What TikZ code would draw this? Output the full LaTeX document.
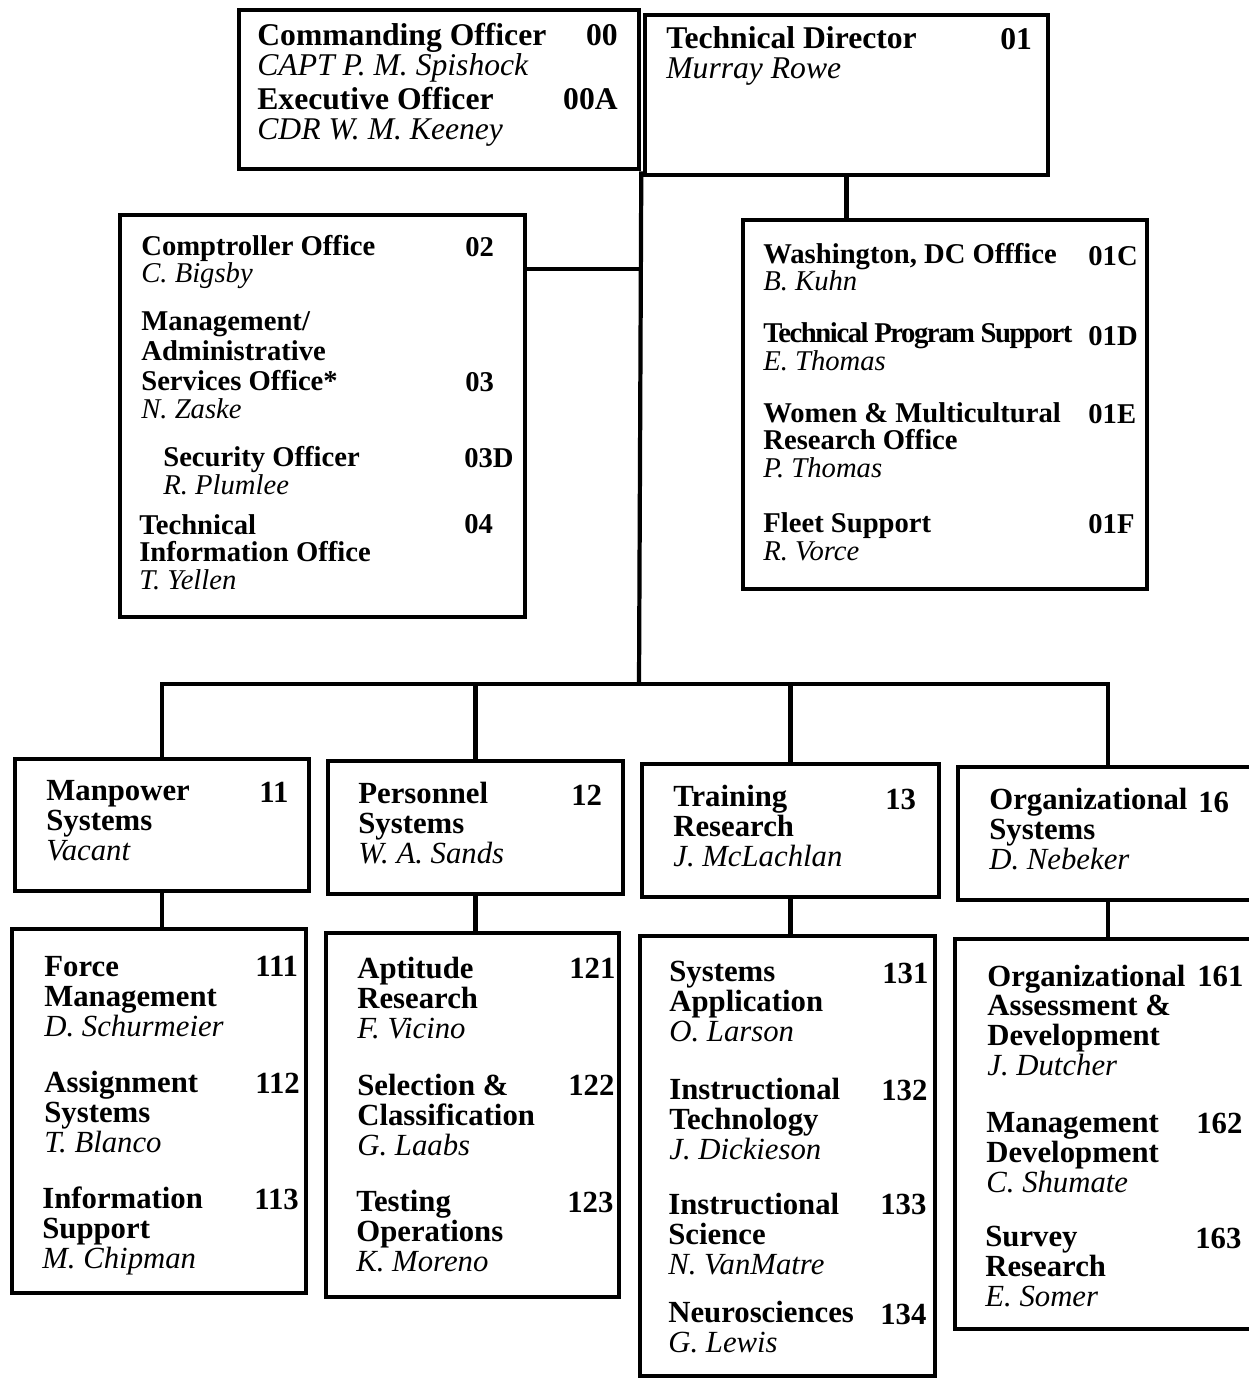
\documentclass[tikz,border=0pt]{standalone}
\usepackage{fontspec}
\setmainfont{Liberation Serif}
\usepackage{tikz}
\usetikzlibrary{fit}

\newcommand{\topsize}{\fontsize{18}{17.1}\selectfont\lineskiplimit=-20pt}
\newcommand{\midsize}{\fontsize{16.3}{15.4}\selectfont\lineskiplimit=-20pt}
\newcommand{\lowsize}{\fontsize{17.5}{16.8}\selectfont\lineskiplimit=-20pt}
\newcommand{\nm}[1]{{\mdseries\itshape #1}}

\tikzset{
	box/.style={draw, line width=2.6pt, inner sep=0pt},
	link/.style={line width=2.4pt},
	% multi-line nodes sit on the baseline of their last line
	unit/.style={anchor=base west, inner sep=0pt, align=left, font=#1\bfseries},
	orgno/.style={anchor=base west, inner sep=0pt, font=#1\bfseries},
}

\begin{document}
\begin{tikzpicture}[x=0.02cm, y=-0.02cm]
	\useasboundingbox (0,0) rectangle (1248,1378);
	% boxes
	\node[box, fit={(239,10) (639,169)}] (co) {};
	\node[box, fit={(645,15) (1048,175)}] (td) {};
	\node[box, fit={(120,215) (525,617)}] (cmp) {};
	\node[box, fit={(743,220) (1147,589)}] (wdc) {};
	\node[box, fit={(15,759) (309,891)}] (mps) {};
	\node[box, fit={(328,761) (623,894)}] (pers) {};
	\node[box, fit={(642,764) (939,897)}] (trn) {};
	\node[box, fit={(958,767) (1258,900)}] (org) {};
	\node[box, fit={(12,929) (306,1293)}] (mps3) {};
	\node[box, fit={(326,933) (619,1297)}] (pers3) {};
	\node[box, fit={(640,936) (935,1376)}] (trn3) {};
	\node[box, fit={(955,939) (1258,1329)}] (org3) {};

	% connectors
	\coordinate (bus) at (639,684);
	\coordinate (j1) at (639,269);
	\draw[link] (co.south east) -- (bus);
	\draw[link] (cmp.east |- j1) -- (j1);
	\draw[link] (td.south) -- (td.south |- wdc.north);
	\draw[link] (mps.north) -- (mps.north |- bus) -- (org.north |- bus) -- (org.north);
	\draw[link] (pers.north |- bus) -- (pers.north);
	\draw[link] (trn.north |- bus) -- (trn.north);
	\foreach \b/\c in {mps/mps3, pers/pers3, trn/trn3, org/org3}
		\draw[link] (\b.south) -- (\b.south |- \c.north);

	% top row
	\node[unit=\topsize] (t00) at (257,76) {Commanding Officer\\\nm{CAPT P. M. Spishock}};
	\node[orgno=\topsize, anchor=base east] (n00) at (618,46) {00};
	\node[unit=\topsize] (t00a) at (257,140) {Executive Officer\\\nm{CDR W. M. Keeney}};
	\node[orgno=\topsize, anchor=base east] (n00a) at (618,110) {00A};
	\node[unit=\topsize] (t01) at (666,79) {Technical Director\\\nm{Murray Rowe}};
	\node[orgno=\topsize] (n01) at (1000,50) {01};

	% staff offices
	\node[unit=\midsize] (t02) at (141,283) {Comptroller Office\\\nm{C. Bigsby}};
	\node[orgno=\midsize] (n02) at (465,257) {02};
	\node[unit=\midsize] (t03) at (141,418) {Management/\\[1.7pt]Administrative\\[1.7pt]Services Office*\\\nm{N. Zaske}};
	\node[orgno=\midsize] (n03) at (465,391) {03};
	\node[unit=\midsize] (t03d) at (163,494) {Security Officer\\\nm{R. Plumlee}};
	\node[orgno=\midsize] (n03d) at (464,467) {03D};
	\node[unit=\midsize] (t04) at (139,589) {Technical\\Information Office\\\nm{T. Yellen}};
	\node[orgno=\midsize] (n04) at (464,533) {04};

	\node[unit=\midsize] (t01c) at (763,291) {Washington, DC Offfice\\\nm{B. Kuhn}};
	\node[orgno=\midsize] (n01c) at (1088,266) {01C};
	\node[unit=\midsize] (t01d) at (763,370) {{\addfontfeatures{LetterSpace=-5}Technical Program Support}\\\nm{E. Thomas}};
	\node[orgno=\midsize] (n01d) at (1088,345) {01D};
	\node[unit=\midsize] (t01e) at (763,477) {Women \& Multicultural\\Research Office\\\nm{P. Thomas}};
	\node[orgno=\midsize] (n01e) at (1088,423) {01E};
	\node[unit=\midsize] (t01f) at (763,560) {Fleet Support\\\nm{R. Vorce}};
	\node[orgno=\midsize] (n01f) at (1088,533) {01F};

	% departments
	\node[unit=\lowsize] (t11) at (46,860) {Manpower\\Systems\\\nm{Vacant}};
	\node[orgno=\lowsize] (n11) at (259,802) {11};
	\node[unit=\lowsize] (t12) at (358,863) {Personnel\\Systems\\\nm{W. A. Sands}};
	\node[orgno=\lowsize] (n12) at (571,805) {12};
	\node[unit=\lowsize] (t13) at (673,866) {Training\\Research\\\nm{J. McLachlan}};
	\node[orgno=\lowsize] (n13) at (885,809) {13};
	\node[unit=\lowsize] (t16) at (989,869) {Organizational\\Systems\\\nm{D. Nebeker}};
	\node[orgno=\lowsize] (n16) at (1198,812) {16};

	% divisions
	\node[unit=\lowsize] (t111) at (44,1036) {Force\\Management\\\nm{D. Schurmeier}};
	\node[orgno=\lowsize] (n111) at (255,976) {111};
	\node[unit=\lowsize] (t112) at (44,1152) {Assignment\\Systems\\\nm{T. Blanco}};
	\node[orgno=\lowsize] (n112) at (255,1093) {112};
	\node[unit=\lowsize] (t113) at (42,1268) {Information\\Support\\\nm{M. Chipman}};
	\node[orgno=\lowsize] (n113) at (254,1209) {113};

	\node[unit=\lowsize] (t121) at (357,1038) {Aptitude\\Research\\\nm{F. Vicino}};
	\node[orgno=\lowsize] (n121) at (569,978) {121};
	\node[unit=\lowsize] (t122) at (357,1155) {Selection \&\\Classification\\\nm{G. Laabs}};
	\node[orgno=\lowsize] (n122) at (568,1095) {122};
	\node[unit=\lowsize] (t123) at (356,1271) {Testing\\Operations\\\nm{K. Moreno}};
	\node[orgno=\lowsize] (n123) at (567,1212) {123};

	\node[unit=\lowsize] (t131) at (669,1041) {Systems\\Application\\\nm{O. Larson}};
	\node[orgno=\lowsize] (n131) at (882,983) {131};
	\node[unit=\lowsize] (t132) at (669,1159) {Instructional\\Technology\\\nm{J. Dickieson}};
	\node[orgno=\lowsize] (n132) at (881,1100) {132};
	\node[unit=\lowsize] (t133) at (668,1274) {Instructional\\Science\\\nm{N. VanMatre}};
	\node[orgno=\lowsize] (n133) at (880,1214) {133};
	\node[unit=\lowsize] (t134) at (668,1352) {Neurosciences\\\nm{G. Lewis}};
	\node[orgno=\lowsize] (n134) at (880,1324) {134};

	\node[unit=\lowsize] (t161) at (987,1075) {Organizational\\Assessment \&\\Development\\\nm{J. Dutcher}};
	\node[orgno=\lowsize] (n161) at (1197,986) {161};
	\node[unit=\lowsize] (t162) at (986,1192) {Management\\Development\\\nm{C. Shumate}};
	\node[orgno=\lowsize] (n162) at (1196,1133) {162};
	\node[unit=\lowsize] (t163) at (985,1306) {Survey\\Research\\\nm{E. Somer}};
	\node[orgno=\lowsize] (n163) at (1195,1248) {163};
\end{tikzpicture}
\end{document}
